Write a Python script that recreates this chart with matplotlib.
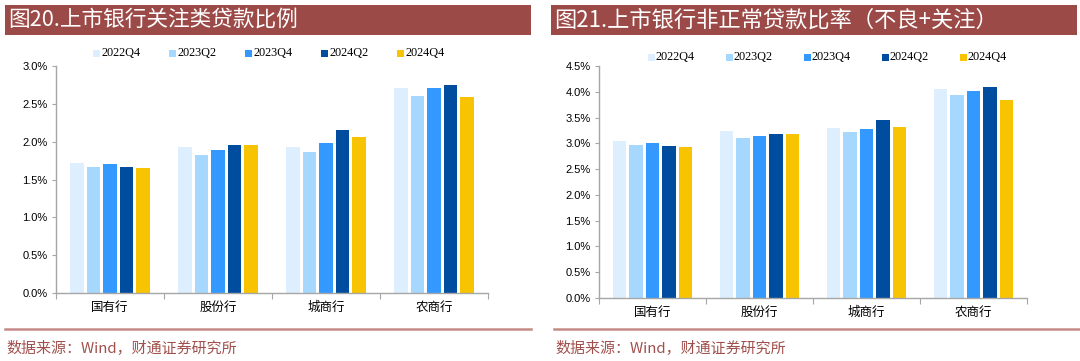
import matplotlib
matplotlib.use("Agg")
import matplotlib.pyplot as plt
from matplotlib.patches import Rectangle
from matplotlib.lines import Line2D
import numpy as np

plt.rcParams['font.family'] = ['Noto Sans CJK SC', 'DejaVu Sans']

categories = ["国有行", "股份行", "城商行", "农商行"]
series_names = ["2022Q4", "2023Q2", "2023Q4", "2024Q2", "2024Q4"]
colors = ["#DDEEFF", "#A6D8FF", "#3399FF", "#004C9E", "#F8C300"]

# 关注类贷款比例 (%)
left_2022Q4 = [1.72, 1.93, 1.93, 2.71]
left_2023Q2 = [1.67, 1.82, 1.86, 2.60]
left_2023Q4 = [1.70, 1.89, 1.98, 2.71]
left_2024Q2 = [1.66, 1.96, 2.15, 2.75]
left_2024Q4 = [1.65, 1.96, 2.06, 2.59]

# 非正常贷款比率 (%)
right_2022Q4 = [3.04, 3.24, 3.30, 4.05]
right_2023Q2 = [2.97, 3.10, 3.22, 3.94]
right_2023Q4 = [3.00, 3.14, 3.28, 4.01]
right_2024Q2 = [2.94, 3.19, 3.45, 4.09]
right_2024Q4 = [2.93, 3.19, 3.32, 3.84]

left_series = [left_2022Q4, left_2023Q2, left_2023Q4, left_2024Q2, left_2024Q4]
right_series = [right_2022Q4, right_2023Q2, right_2023Q4, right_2024Q2, right_2024Q4]

left_title = "图20.上市银行关注类贷款比例"
right_title = "图21.上市银行非正常贷款比率（不良+关注）"
source = "数据来源：Wind，财通证券研究所"

W, H = 1080, 361
fig = plt.figure(figsize=(W / 100, H / 100), dpi=100)

def px_axes(x0, y0, x1, y1):
    return fig.add_axes([x0 / W, 1 - y1 / H, (x1 - x0) / W, (y1 - y0) / H])

TITLE_BG = "#9C4A47"
RED_TXT = "#A0504C"
AX_COL = "#A6A6A6"

def header(x0, x1, text, size):
    fig.patches.append(Rectangle((x0 / W, 1 - 35 / H), (x1 - x0) / W, 30.5 / H,
                                 transform=fig.transFigure, facecolor=TITLE_BG,
                                 edgecolor="none"))
    fig.text((x0 + 3) / W, 1 - 20 / H, text, color="white", fontsize=size,
             va="center", ha="left", family=['Noto Sans CJK SC', 'DejaVu Sans'])

def footer(x0, x1):
    fig.lines.append(Line2D([x0 / W, x1 / W], [1 - 329 / H, 1 - 329 / H],
                            transform=fig.transFigure, color="#C48A87", lw=1.8))
    fig.text((x0 + 1) / W, 1 - 348 / H, source, color=RED_TXT, fontsize=10.8,
             va="center", ha="left", family=['Noto Sans CJK SC', 'DejaVu Sans'])

def panel(ax, series, ymax, legend_x0, legend_step, legend_y):
    x = np.arange(len(categories))
    step = 0.153
    width = 0.125
    for i, (vals, c, name) in enumerate(zip(series, colors, series_names)):
        ax.bar(x + (i - 2) * step, vals, width=width, color=c, label=name, zorder=2)
    ax.set_xlim(-0.5, len(categories) - 0.5)
    ax.set_ylim(0, ymax)
    yt = np.arange(0, ymax + 1e-9, 0.5)
    ax.set_yticks(yt)
    ax.set_yticklabels([f"{v:.1f}%" for v in yt], fontsize=8, family=['Liberation Sans'])
    ax.set_xticks(np.arange(-0.5, len(categories) + 0.5, 1.0))
    ax.set_xticklabels([])
    ax.set_xticks(x, minor=True)
    ax.set_xticklabels(categories, minor=True, fontsize=9)
    ax.tick_params(axis="x", which="minor", length=0, pad=6)
    ax.tick_params(axis="x", which="major", length=4, color=AX_COL, direction="out")
    ax.tick_params(axis="y", length=3, color=AX_COL, pad=3)
    for s in ["top", "right"]:
        ax.spines[s].set_visible(False)
    for s in ["left", "bottom"]:
        ax.spines[s].set_color(AX_COL)
        ax.spines[s].set_linewidth(1)
    ax.patch.set_alpha(0)
    # legend
    for i, (c, name) in enumerate(zip(colors, series_names)):
        lx = legend_x0 + i * legend_step
        fig.patches.append(Rectangle((lx / W, 1 - (legend_y + 4) / H), 7 / W, 7 / H,
                                     transform=fig.transFigure, facecolor=c, edgecolor="none"))
        fig.text((lx + 8) / W, 1 - legend_y / H, name, fontsize=8.8, va="center",
                 ha="left", family=['Liberation Serif'])

header(5, 531, left_title, 15.6)
header(551, 1077, right_title, 16)

axL = px_axes(56, 66, 488, 293)
panel(axL, left_series, 3.0, 93, 76, 53)
axR = px_axes(599, 66, 1027, 298)
panel(axR, right_series, 4.5, 648, 78, 57)

footer(5, 531)
footer(554, 1079)

fig.savefig("out.png", dpi=100, facecolor="white")
